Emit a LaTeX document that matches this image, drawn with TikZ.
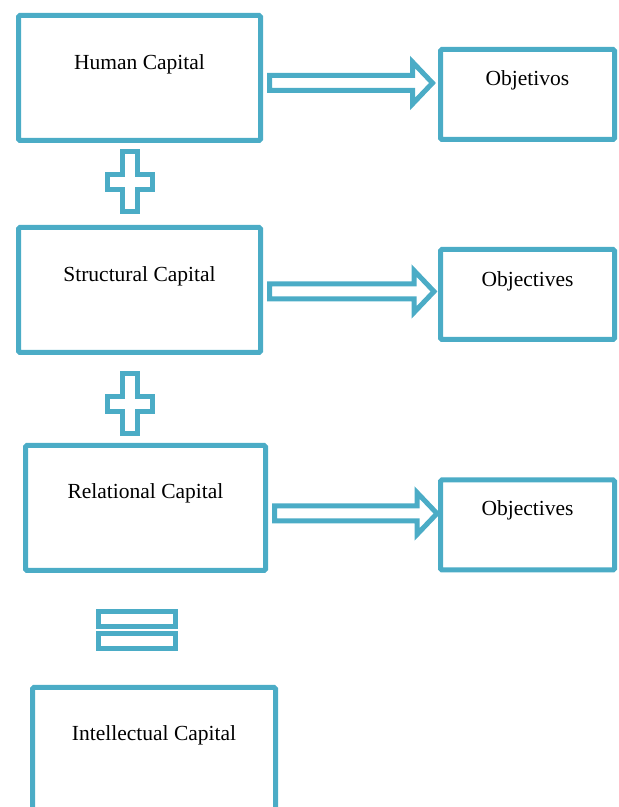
\documentclass[tikz,border=0pt]{standalone}
\usepackage{fontspec}
\setmainfont{Liberation Serif}
\usetikzlibrary{calc,positioning}
\definecolor{capteal}{RGB}{75,172,198}

\tikzset{
  capbox/.style={draw=capteal, line width=5pt, rounded corners=1.5pt, minimum width=242pt, minimum height=125pt, inner sep=0pt},
  goalbox/.style={draw=capteal, line width=5pt, rounded corners=1.5pt, minimum width=174pt, minimum height=90pt, inner sep=0pt},
  captext/.style={font=\fontsize{21.5}{26}\selectfont, inner sep=0pt, anchor=base},
  blockline/.style={draw=capteal, line width=5pt, line join=miter}
}

% hollow block arrow: from node, to node, vertical shift, gap before tip
\newcommand{\hollowarrow}[4]{%
  \draw[blockline] let \p1=($(#1.east)+(6.5,#3)$), \p2=($(#2.west)+(-#4,0)$) in
    (\x1,\y1+7.5pt) -- (\x2-20pt,\y1+7.5pt) -- (\x2-20pt,\y1+21pt) -- (\x2,\y1)
    -- (\x2-20pt,\y1-21pt) -- (\x2-20pt,\y1-7.5pt) -- (\x1,\y1-7.5pt) -- cycle;}

\begin{document}
\begin{tikzpicture}[x=1pt,y=1pt]
    \useasboundingbox (0,0) rectangle (619,807);

    % left column
    \node[capbox] (human) at (139.5,729) {};
    \node[capbox] (struct) at (139.5,517) {};
    \node[capbox, minimum width=240pt] (relat) at (145.5,299) {};
    \node[capbox, minimum width=243pt] (intel) at (154,57) {};

    \node[captext] (humantxt) at ($(human.north)+(0,-56.5)$) {Human Capital};
    \node[captext] (structtxt) at ($(struct.north)+(0,-56.5)$) {Structural Capital};
    \node[captext] (relattxt) at ($(relat.north)+(0,-55.5)$) {Relational Capital};
    \node[captext] (inteltxt) at ($(intel.north)+(0,-55.5)$) {Intellectual Capital};

    % right column
    \node[goalbox] (goalA) at (527.5,712.5) {};
    \node[goalbox] (goalB) at (527.5,512.5) {};
    \node[goalbox] (goalC) at (527.5,282) {};

    \node[captext] (goalAtxt) at ($(goalA.north)+(0,-38.5)$) {Objetivos};
    \node[captext] (goalBtxt) at ($(goalB.north)+(0,-39.5)$) {Objectives};
    \node[captext] (goalCtxt) at ($(goalC.north)+(0,-38.5)$) {Objectives};

    % arrows
    \hollowarrow{human}{goalA}{-5}{5.5}
    \hollowarrow{struct}{goalB}{-1.5}{4}
    \hollowarrow{relat}{goalC}{-5.5}{1}

    % plus and equals signs
    \foreach \y in {625,403}
    \draw[blockline, shift={(130,\y)}] (-7.5,30) -- (7.5,30) -- (7.5,7.5) -- (22.5,7.5)
        -- (22.5,-7.5) -- (7.5,-7.5) -- (7.5,-30) -- (-7.5,-30) -- (-7.5,-7.5)
        -- (-22.5,-7.5) -- (-22.5,7.5) -- (-7.5,7.5) -- cycle;
    \draw[blockline, shift={(137,176.5)}] (-38.5,3.5) rectangle (38.5,18.5);
    \draw[blockline, shift={(137,176.5)}] (-38.5,-3.5) rectangle (38.5,-18.5);
\end{tikzpicture}
\end{document}
